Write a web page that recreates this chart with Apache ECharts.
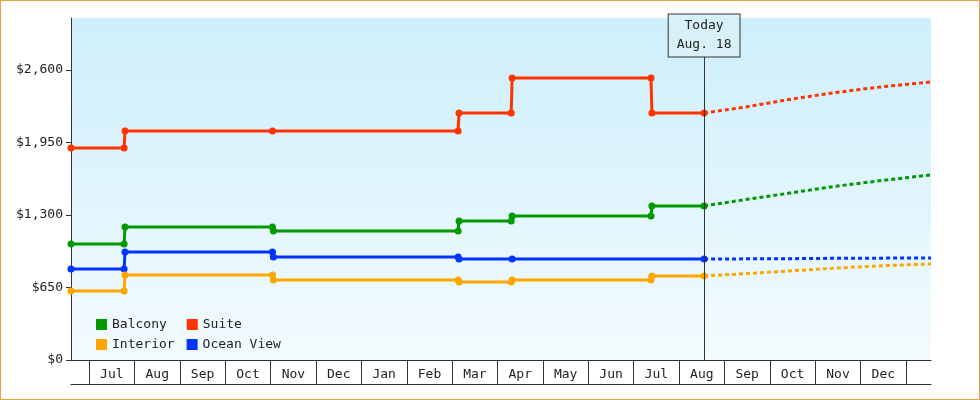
<!DOCTYPE html><html><head><meta charset="utf-8">
<script src="https://cdn.jsdelivr.net/npm/echarts@6/dist/echarts.min.js"></script>
<style>html,body{margin:0;padding:0}#c{width:980px;height:400px;box-sizing:border-box;border:1px solid #f0a040}</style>
</head><body><div id="c"></div><script>
// x in months since Jun 1 (Jul 1 = 1)
const monthLabels=['Jul','Aug','Sep','Oct','Nov','Dec','Jan','Feb','Mar','Apr','May','Jun','Jul','Aug','Sep','Oct','Nov','Dec'];
const yTicks=[0,650,1300,1950,2600];
const todayX=14.55, todayLabel='Today\nAug. 18';
const suite=[[0.6,1900],[1.77,1900],[1.79,2053],[5.04,2053],[9.13,2053],[9.15,2214],[10.3,2214],[10.32,2528],[13.38,2528],[13.4,2214],[14.55,2214]];
const suiteF=[[14.55,2214],[15.5,2270],[16.5,2340],[17.5,2400],[18.5,2450],[19.55,2492]];
const balcony=[[0.6,1040],[1.77,1040],[1.79,1192],[5.04,1192],[5.06,1157],[9.13,1157],[9.15,1246],[10.3,1246],[10.32,1291],[13.38,1291],[13.4,1381],[14.55,1381]];
const balconyF=[[14.55,1381],[15.5,1440],[16.5,1500],[17.5,1560],[18.5,1610],[19.55,1659]];
const ocean=[[0.6,816],[1.77,816],[1.79,968],[5.04,968],[5.06,923],[9.13,923],[9.15,905],[10.32,905],[14.55,905]];
const oceanF=[[14.55,905],[16.5,908],[17.5,912],[19.55,914]];
const interior=[[0.6,619],[1.77,619],[1.79,762],[5.04,762],[5.06,717],[9.13,717],[9.15,699],[10.3,699],[10.32,717],[13.38,717],[13.4,753],[14.55,753]];
const interiorF=[[14.55,753],[15.5,775],[16.5,800],[17.5,825],[18.5,845],[19.55,861]];
const C={Balcony:'#009900',Suite:'#ff3300',Interior:'#ffa500','Ocean View':'#0033ff'};
const font='DejaVu Sans Mono';
function solid(name,data,extra){return Object.assign({name,type:'line',data,symbol:'circle',symbolSize:7,showSymbol:true,
 lineStyle:{width:3,color:C[name]},itemStyle:{color:C[name]},z:3},extra||{});}
function dash(name,data){return {name,type:'line',data,symbol:'none',lineStyle:{width:3,type:[4,3],color:C[name]},itemStyle:{color:C[name]},z:3};}
const ticks=[];for(let i=1;i<=19;i++)ticks.push(i);
const labs=monthLabels.map((m,i)=>i+1.5);
const ch=echarts.init(document.getElementById('c'));
ch.setOption({
 animation:false,textStyle:{fontFamily:font},
 grid:{left:70,right:48,top:17,bottom:39,show:true,borderWidth:0,
  backgroundColor:new echarts.graphic.LinearGradient(0,0,0,1,[{offset:0,color:'#cdeffb'},{offset:1,color:'#f3fbfe'}])},
 legend:[{data:['Balcony','Suite'],left:90,top:312,orient:'horizontal',itemWidth:11,itemHeight:11,icon:'rect',itemGap:20,textStyle:{fontFamily:font,fontSize:13,color:'#222'}},
  {data:['Interior','Ocean View'],left:90,top:332,itemWidth:11,itemHeight:11,icon:'rect',itemGap:12,textStyle:{fontFamily:font,fontSize:13,color:'#222'}}],
 xAxis:[{type:'value',min:0.6,max:19.55,position:'bottom',splitLine:{show:false},
  axisLine:{lineStyle:{color:'#333'}},
  axisTick:{customValues:ticks,length:24,lineStyle:{color:'#333'}},
  axisLabel:{customValues:labs,formatter:v=>monthLabels[Math.round(v-1.5)]||'',margin:8,fontFamily:font,fontSize:13,color:'#222'}},
  {type:'value',min:0.6,max:19.55,position:'bottom',offset:24,axisLine:{show:true,lineStyle:{color:'#333'}},axisTick:{show:false},axisLabel:{show:false},splitLine:{show:false}}],
 yAxis:{type:'value',min:0,max:3065,interval:650,splitLine:{show:false},
  axisLine:{show:true,lineStyle:{color:'#333'}},axisTick:{show:true,length:5},
  axisLabel:{showMaxLabel:false,fontFamily:font,fontSize:13,color:'#222',formatter:v=>yTicks.includes(v)?'$'+v.toLocaleString('en-US'):''}},
 series:[
  solid('Suite',suite,{markLine:{symbol:'none',silent:true,lineStyle:{color:'#333',width:1,type:'solid'},
   label:{show:true,position:'end',formatter:todayLabel,fontFamily:font,fontSize:13,color:'#222',lineHeight:19,backgroundColor:'#d8f0f8',borderColor:'#333',borderWidth:1,padding:[2,8,2,8],distance:0},
   data:[[{coord:[todayX,0]},{coord:[todayX,2720]}]]}}),
  dash('Suite',suiteF),
  solid('Balcony',balcony),dash('Balcony',balconyF),
  solid('Ocean View',ocean),dash('Ocean View',oceanF),
  solid('Interior',interior),dash('Interior',interiorF)
 ]});
</script></body></html>
